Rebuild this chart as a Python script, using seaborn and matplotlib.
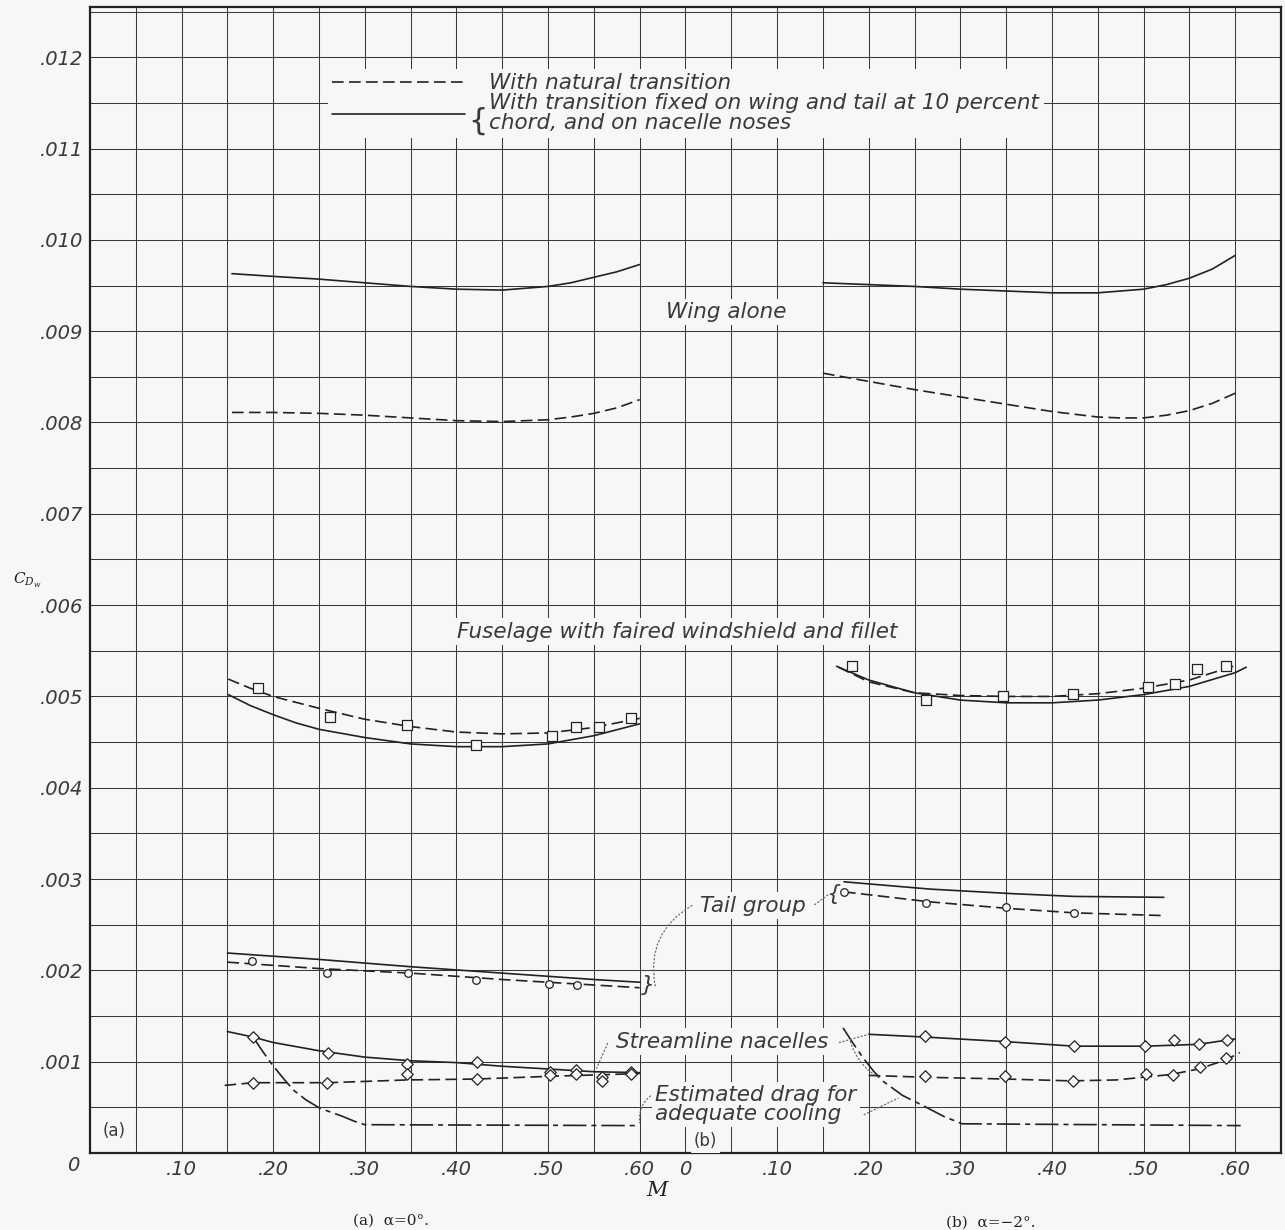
import numpy as np
import pandas as pd
import matplotlib
matplotlib.use("Agg")
import matplotlib.pyplot as plt
import seaborn as sns
from matplotlib.lines import Line2D

# ---------------------------------------------------------------
# Data: Mach number M and wing drag coefficient C_Dw
# Panel (b) is drawn on the same sheet; its M = 0 sits at 0.65 of panel (a)
# ---------------------------------------------------------------
PANEL_B_SHIFT = 0.65

# Wing alone
wing_a_fixed_M = [0.155, 0.20, 0.25, 0.30, 0.35, 0.40, 0.45, 0.50, 0.525, 0.55, 0.575, 0.60]
wing_a_fixed_C = [0.00963, 0.00960, 0.00957, 0.00953, 0.00949, 0.00946, 0.00945, 0.00949, 0.00953, 0.00959, 0.00965, 0.00973]
wing_a_nat_M = [0.155, 0.20, 0.25, 0.30, 0.35, 0.40, 0.45, 0.50, 0.525, 0.55, 0.575, 0.60]
wing_a_nat_C = [0.00811, 0.00811, 0.00810, 0.00808, 0.00805, 0.00802, 0.00801, 0.00803, 0.00806, 0.00810, 0.00816, 0.00825]
wing_b_fixed_M = [0.15, 0.20, 0.25, 0.30, 0.35, 0.40, 0.45, 0.50, 0.525, 0.55, 0.575, 0.60]
wing_b_fixed_C = [0.00953, 0.00951, 0.00949, 0.00946, 0.00944, 0.00942, 0.00942, 0.00946, 0.00951, 0.00958, 0.00968, 0.00983]
wing_b_nat_M = [0.15, 0.20, 0.25, 0.30, 0.35, 0.40, 0.45, 0.475, 0.50, 0.525, 0.55, 0.575, 0.60]
wing_b_nat_C = [0.00854, 0.00845, 0.00836, 0.00828, 0.00820, 0.00812, 0.00806, 0.00805, 0.00805, 0.00808, 0.00813, 0.00821, 0.00832]

# Fuselage with faired windshield and fillet
fus_a_fixed_M = [0.151, 0.175, 0.20, 0.225, 0.25, 0.30, 0.35, 0.40, 0.45, 0.50, 0.55, 0.60]
fus_a_fixed_C = [0.00502, 0.00490, 0.00480, 0.00471, 0.00464, 0.00455, 0.00448, 0.00445, 0.00445, 0.00448, 0.00457, 0.00470]
fus_a_nat_M = [0.151, 0.175, 0.20, 0.25, 0.30, 0.35, 0.40, 0.45, 0.50, 0.55, 0.60]
fus_a_nat_C = [0.00519, 0.00509, 0.00500, 0.00487, 0.00475, 0.00467, 0.00461, 0.00459, 0.00460, 0.00466, 0.00476]
fus_a_pts_M = [0.183, 0.262, 0.346, 0.421, 0.504, 0.531, 0.556, 0.590]
fus_a_pts_C = [0.00509, 0.00478, 0.00469, 0.00447, 0.00457, 0.00467, 0.00467, 0.00476]
fus_b_fixed_M = [0.165, 0.20, 0.25, 0.30, 0.35, 0.40, 0.45, 0.50, 0.55, 0.60, 0.612]
fus_b_fixed_C = [0.00533, 0.00518, 0.00504, 0.00496, 0.00493, 0.00493, 0.00496, 0.00502, 0.00511, 0.00526, 0.00532]
fus_b_nat_M = [0.167, 0.20, 0.25, 0.30, 0.35, 0.40, 0.45, 0.50, 0.55, 0.598]
fus_b_nat_C = [0.00532, 0.00516, 0.00504, 0.00501, 0.00500, 0.00500, 0.00503, 0.00509, 0.00518, 0.00533]
fus_b_pts_M = [0.182, 0.263, 0.347, 0.423, 0.505, 0.534, 0.558, 0.590]
fus_b_pts_C = [0.00533, 0.00496, 0.00500, 0.00503, 0.00510, 0.00514, 0.00530, 0.00533]

# Tail group
tail_a_fixed_M = [0.15, 0.25, 0.35, 0.45, 0.55, 0.60]
tail_a_fixed_C = [0.00219, 0.00212, 0.00204, 0.00197, 0.00190, 0.00187]
tail_a_nat_M = [0.15, 0.25, 0.35, 0.45, 0.55, 0.60]
tail_a_nat_C = [0.00209, 0.00202, 0.00197, 0.00190, 0.00184, 0.00181]
tail_a_pts_M = [0.177, 0.259, 0.347, 0.421, 0.501, 0.532]
tail_a_pts_C = [0.00210, 0.00197, 0.00197, 0.00190, 0.00185, 0.00184]
tail_b_fixed_M = [0.173, 0.267, 0.357, 0.424, 0.522]
tail_b_fixed_C = [0.00297, 0.00289, 0.00284, 0.00281, 0.00280]
tail_b_nat_M = [0.173, 0.267, 0.350, 0.424, 0.522]
tail_b_nat_C = [0.00286, 0.00275, 0.00268, 0.00263, 0.00260]
tail_b_pts_M = [0.173, 0.262, 0.350, 0.424]
tail_b_pts_C = [0.00286, 0.00274, 0.00269, 0.00263]

# Streamline nacelles
nac_a_fixed_M = [0.15, 0.178, 0.20, 0.25, 0.30, 0.35, 0.40, 0.45, 0.50, 0.55, 0.60]
nac_a_fixed_C = [0.00133, 0.00127, 0.00121, 0.00112, 0.00105, 0.00101, 0.00099, 0.00095, 0.00092, 0.00089, 0.00088]
nac_a_nat_M = [0.147, 0.178, 0.26, 0.346, 0.422, 0.502, 0.60]
nac_a_nat_C = [0.00074, 0.00077, 0.00077, 0.00080, 0.00081, 0.00084, 0.00087]
nac_a_fixed_pts_M = [0.178, 0.260, 0.346, 0.422, 0.502, 0.530, 0.559, 0.590]
nac_a_fixed_pts_C = [0.00127, 0.00109, 0.00097, 0.00100, 0.00089, 0.00091, 0.00083, 0.00089]
nac_a_nat_pts_M = [0.178, 0.259, 0.346, 0.422, 0.502, 0.530, 0.559, 0.590]
nac_a_nat_pts_C = [0.00077, 0.00077, 0.00087, 0.00081, 0.00085, 0.00087, 0.00079, 0.00086]
nac_b_fixed_M = [0.20, 0.261, 0.349, 0.424, 0.502, 0.56, 0.60]
nac_b_fixed_C = [0.00130, 0.00127, 0.00122, 0.00117, 0.00117, 0.00119, 0.00125]
nac_b_nat_M = [0.20, 0.26, 0.35, 0.42, 0.47, 0.50, 0.53, 0.56, 0.59, 0.605]
nac_b_nat_C = [0.00085, 0.00083, 0.00081, 0.00079, 0.00080, 0.00083, 0.00086, 0.00092, 0.00102, 0.00110]
nac_b_fixed_pts_M = [0.261, 0.349, 0.424, 0.502, 0.533, 0.561, 0.591]
nac_b_fixed_pts_C = [0.00128, 0.00122, 0.00117, 0.00117, 0.00124, 0.00119, 0.00124]
nac_b_nat_pts_M = [0.261, 0.349, 0.423, 0.503, 0.532, 0.562, 0.590]
nac_b_nat_pts_C = [0.00084, 0.00084, 0.00079, 0.00087, 0.00085, 0.00094, 0.00104]

# Estimated drag for adequate cooling
cool_a_M = [0.178, 0.188, 0.198, 0.210, 0.222, 0.236, 0.251, 0.265, 0.276, 0.288, 0.30, 0.60]
cool_a_C = [0.00127, 0.00112, 0.00098, 0.00083, 0.00069, 0.00058, 0.00049, 0.00044, 0.00040, 0.00035, 0.00031, 0.00030]
cool_b_M = [0.172, 0.183, 0.194, 0.205, 0.215, 0.237, 0.261, 0.282, 0.302, 0.606]
cool_b_C = [0.00137, 0.00120, 0.00104, 0.00090, 0.00079, 0.00063, 0.00051, 0.00040, 0.00032, 0.00030]

# Axis tick labels
x_tick_pos = [0.10, 0.20, 0.30, 0.40, 0.50, 0.60]
x_tick_txt = [".10", ".20", ".30", ".40", ".50", ".60"]
y_tick_pos = [0.001 * k for k in range(1, 13)]
y_tick_txt = [".001", ".002", ".003", ".004", ".005", ".006", ".007", ".008", ".009", ".010", ".011", ".012"]

# ---------------------------------------------------------------
BG = "#f7f7f6"
INK = "#222222"
TXT = "#3a3a3a"
GRID = "#3a3a3a"

sns.set_theme(style="white")
plt.rcParams["font.family"] = ["DejaVu Sans"]
plt.rcParams["mathtext.fontset"] = "dejavuserif"

FAM = ["DejaVu Sans"]
LET = dict(family=FAM, style="oblique", color=TXT)
SERIF = dict(family=["DejaVu Serif"], color=INK)
FS_TICK = 14
FS = 15.5

fig = plt.figure(figsize=(12.85, 12.30), dpi=100, facecolor=BG)
ax = fig.add_axes([0.0700, 0.0626, 0.9269, 0.9317], facecolor=BG)


def frame(M, C, panel):
    M = np.asarray(M, dtype=float)
    if panel == "b":
        M = M + PANEL_B_SHIFT
    return pd.DataFrame({"X": M, "C": C})


DASH = (0, (7, 3.2))
SOLID = "-"
COOL = (0, (14, 3, 3, 3))

curves = [
    (wing_a_fixed_M, wing_a_fixed_C, "a", SOLID),
    (wing_a_nat_M, wing_a_nat_C, "a", DASH),
    (wing_b_fixed_M, wing_b_fixed_C, "b", SOLID),
    (wing_b_nat_M, wing_b_nat_C, "b", DASH),
    (fus_a_fixed_M, fus_a_fixed_C, "a", SOLID),
    (fus_a_nat_M, fus_a_nat_C, "a", DASH),
    (fus_b_fixed_M, fus_b_fixed_C, "b", SOLID),
    (fus_b_nat_M, fus_b_nat_C, "b", DASH),
    (tail_a_fixed_M, tail_a_fixed_C, "a", SOLID),
    (tail_a_nat_M, tail_a_nat_C, "a", DASH),
    (tail_b_fixed_M, tail_b_fixed_C, "b", SOLID),
    (tail_b_nat_M, tail_b_nat_C, "b", DASH),
    (nac_a_fixed_M, nac_a_fixed_C, "a", SOLID),
    (nac_a_nat_M, nac_a_nat_C, "a", DASH),
    (nac_b_fixed_M, nac_b_fixed_C, "b", SOLID),
    (nac_b_nat_M, nac_b_nat_C, "b", DASH),
    (cool_a_M, cool_a_C, "a", COOL),
    (cool_b_M, cool_b_C, "b", COOL),
]
for M, C, p, ls in curves:
    sns.lineplot(data=frame(M, C, p), x="X", y="C", ax=ax, sort=False, estimator=None,
                 color=INK, linewidth=1.2, linestyle=ls, zorder=3, legend=False)

points = [
    (fus_a_pts_M, fus_a_pts_C, "a", "s", 48),
    (fus_b_pts_M, fus_b_pts_C, "b", "s", 48),
    (tail_a_pts_M, tail_a_pts_C, "a", "o", 30),
    (tail_b_pts_M, tail_b_pts_C, "b", "o", 30),
    (nac_a_fixed_pts_M, nac_a_fixed_pts_C, "a", "D", 34),
    (nac_a_nat_pts_M, nac_a_nat_pts_C, "a", "D", 34),
    (nac_b_fixed_pts_M, nac_b_fixed_pts_C, "b", "D", 34),
    (nac_b_nat_pts_M, nac_b_nat_pts_C, "b", "D", 34),
]
for M, C, p, mk, s in points:
    sns.scatterplot(data=frame(M, C, p), x="X", y="C", ax=ax, marker=mk, s=s,
                    facecolor=BG, edgecolor=INK, linewidth=0.9, zorder=4, legend=False)

# ---------------- axes, grid ----------------
ax.set_xlim(0, 1.30)
ax.set_ylim(0, 0.01255)
ax.set_xticks(np.round(np.arange(0, 1.3001, 0.05), 3))
ax.set_yticks(np.round(np.arange(0, 0.01251, 0.0005), 5))
xt = {round(p, 3): t for p, t in zip(x_tick_pos, x_tick_txt)}
xt[PANEL_B_SHIFT] = "0"
for p, t in zip(x_tick_pos, x_tick_txt):
    xt[round(p + PANEL_B_SHIFT, 3)] = t
ax.set_xticklabels([xt.get(round(v, 3), "") for v in ax.get_xticks()])
yt = {round(p, 5): t for p, t in zip(y_tick_pos, y_tick_txt)}
ax.set_yticklabels([yt.get(round(v, 5), "") for v in ax.get_yticks()])
for lab in ax.get_xticklabels() + ax.get_yticklabels():
    lab.set_fontfamily(FAM)
    lab.set_fontstyle("oblique")
    lab.set_fontsize(FS_TICK)
    lab.set_color(TXT)
for lab in ax.get_yticklabels():
    lab.set_horizontalalignment("left")
ax.tick_params(axis="x", length=0, pad=5)
ax.tick_params(axis="y", length=0, pad=36)
ax.grid(True, color=GRID, linewidth=0.75)
ax.set_axisbelow(True)
for sp in ax.spines.values():
    sp.set_color(INK)
    sp.set_linewidth(1.6)
ax.set_xlabel("")
ax.set_ylabel("")

ax.text(-0.014, -0.0105, "0", transform=ax.transAxes, ha="center", va="center", fontsize=FS_TICK, **LET)

# ---------------- legend ----------------
handles = [Line2D([], [], color=INK, lw=1.2, linestyle=DASH),
           Line2D([], [], color=INK, lw=1.2, linestyle=SOLID)]
labels = ["With natural transition",
          "With transition fixed on wing and tail at 10 percent\nchord, and on nacelle noses"]
leg = ax.legend(handles, labels, loc="upper left", bbox_to_anchor=(0.1995, 0.946),
                bbox_transform=ax.transAxes, frameon=True, facecolor=BG, edgecolor="none",
                framealpha=1, fancybox=False, handlelength=6.2, handletextpad=1.12,
                labelspacing=0.0, borderpad=0.2, borderaxespad=0,
                prop=dict(family=FAM, style="oblique", size=FS))
for t in leg.get_texts():
    t.set_color(TXT)
    t.set_linespacing(1.0)
ax.text(0.4235, 0.01130, "{", fontsize=22, ha="center", va="center", zorder=6,
        family=FAM, color=TXT)

# ---------------- labels on the sheet ----------------
box = dict(boxstyle="square,pad=0.15", facecolor=BG, edgecolor="none")
ax.text(0.694, 0.00921, "Wing alone", ha="center", va="center", fontsize=FS, bbox=box, zorder=5, **LET)
ax.text(0.641, 0.00571, "Fuselage with faired windshield and fillet", ha="center", va="center",
        fontsize=FS, bbox=box, zorder=5, **LET)
ax.text(0.724, 0.00271, "Tail group", ha="center", va="center", fontsize=FS, bbox=box, zorder=5, **LET)
ax.text(0.690, 0.00122, "Streamline nacelles", ha="center", va="center", fontsize=FS, bbox=box, zorder=5, **LET)
ax.text(0.617, 0.00053, "Estimated drag for\nadequate cooling", ha="left", va="center",
        fontsize=FS, linespacing=0.95, bbox=box, zorder=5, **LET)
ax.text(0.609, 0.00184, "}", ha="center", va="center", fontsize=16, zorder=5, **LET)
ax.text(0.811, 0.00284, "{", ha="center", va="center", fontsize=16, zorder=5, **LET)
ax.text(0.026, 0.00024, "(a)", ha="center", va="center", fontsize=12, bbox=box, zorder=5,
        family=FAM, color=TXT)
ax.text(0.672, 0.00013, "(b)", ha="center", va="center", fontsize=12, bbox=box, zorder=5,
        family=FAM, color=TXT)

lead = dict(arrowstyle="-", linestyle=(0, (1, 2)), color="#6a6a6a", lw=0.9, shrinkA=0, shrinkB=0)
ax.annotate("", xy=(0.617, 0.00183), xytext=(0.657, 0.00271),
            arrowprops=dict(connectionstyle="arc3,rad=0.35", **lead))
ax.annotate("", xy=(0.806, 0.00283), xytext=(0.791, 0.00272),
            arrowprops=dict(connectionstyle="arc3,rad=0", **lead))
ax.annotate("", xy=(0.553, 0.00093), xytext=(0.565, 0.00120),
            arrowprops=dict(connectionstyle="arc3,rad=0", **lead))
ax.annotate("", xy=(0.850, 0.00130), xytext=(0.818, 0.00121),
            arrowprops=dict(connectionstyle="arc3,rad=0", **lead))
ax.annotate("", xy=(0.862, 0.00082), xytext=(0.830, 0.00122),
            arrowprops=dict(connectionstyle="arc3,rad=0.2", **lead))
ax.annotate("", xy=(0.600, 0.00033), xytext=(0.615, 0.00065),
            arrowprops=dict(connectionstyle="arc3,rad=0.3", **lead))
ax.annotate("", xy=(0.882, 0.00060), xytext=(0.845, 0.00042),
            arrowprops=dict(connectionstyle="arc3,rad=0", **lead))

# ---------------- sheet texts ----------------
fig.text(0.021, 0.528, r"$C_{D_w}$", fontsize=11, ha="center", va="center", color=INK)
fig.text(0.511, 0.0325, "M", fontsize=15, ha="center", va="center", style="italic", **SERIF)
fig.text(0.304, 0.0075, "(a)  α=0°.", fontsize=11, ha="center", va="center", **SERIF)
fig.text(0.771, 0.0063, "(b)  α=−2°.", fontsize=11, ha="center", va="center", **SERIF)

fig.savefig("out.png", dpi=100, facecolor=BG)
